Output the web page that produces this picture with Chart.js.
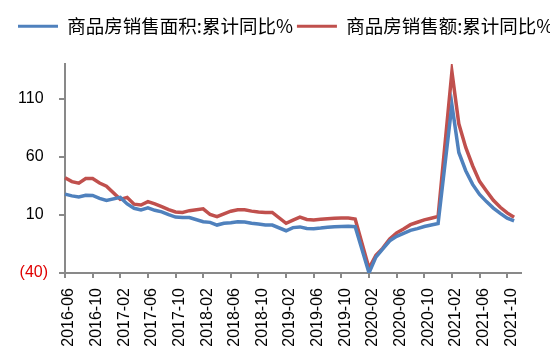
<!DOCTYPE html>
<html>
<head>
<meta charset="utf-8">
<script src="https://cdn.jsdelivr.net/npm/chart.js@4"></script>
<style>
  html, body { margin: 0; padding: 0; background: #fff; overflow: hidden; }
  #wrap { width: 550px; height: 364px; overflow: hidden; }
</style>
</head>
<body>
<div id="wrap"><canvas id="chart" width="620" height="364"></canvas></div>
<script>
// Months 2016-06 .. 2021-12 (January has no cumulative figure)
const months = [
  '2016-06','2016-07','2016-08','2016-09','2016-10','2016-11','2016-12',
  '2017-01','2017-02','2017-03','2017-04','2017-05','2017-06','2017-07','2017-08','2017-09','2017-10','2017-11','2017-12',
  '2018-01','2018-02','2018-03','2018-04','2018-05','2018-06','2018-07','2018-08','2018-09','2018-10','2018-11','2018-12',
  '2019-01','2019-02','2019-03','2019-04','2019-05','2019-06','2019-07','2019-08','2019-09','2019-10','2019-11','2019-12',
  '2020-01','2020-02','2020-03','2020-04','2020-05','2020-06','2020-07','2020-08','2020-09','2020-10','2020-11','2020-12',
  '2021-01','2021-02','2021-03','2021-04','2021-05','2021-06','2021-07','2021-08','2021-09','2021-10','2021-11','2021-12'
];

// 商品房销售面积:累计同比%
const areaYoY = [
  27.9, 26.4, 25.5, 26.9, 26.8, 24.3, 22.5,
  null, 25.1, 19.5, 15.7, 14.3, 16.1, 14.0, 12.7, 10.3, 8.2, 7.9, 7.7,
  null, 4.1, 3.6, 1.3, 2.9, 3.3, 4.2, 4.0, 2.9, 2.2, 1.4, 1.3,
  null, -3.6, -0.9, -0.3, -1.6, -1.8, -1.3, -0.6, -0.1, 0.1, 0.2, -0.1,
  null, -39.9, -26.3, -19.3, -12.3, -8.4, -5.8, -3.3, -1.8, 0.0, 1.3, 2.6,
  null, 104.9, 63.8, 48.1, 36.3, 27.7, 21.5, 15.9, 11.3, 7.2, 4.8, null
];

// 商品房销售额:累计同比%
const amountYoY = [
  42.1, 38.7, 37.3, 41.3, 41.3, 37.5, 34.8,
  null, 23.4, 25.1, 19.3, 18.6, 21.5, 19.5, 17.2, 14.6, 12.6, 12.2, 13.7,
  null, 15.3, 10.4, 8.5, 11.0, 13.2, 14.5, 14.5, 13.3, 12.5, 12.1, 12.2,
  null, 2.8, 5.6, 8.1, 6.1, 5.6, 6.2, 6.7, 7.1, 7.3, 7.3, 6.5,
  null, -35.9, -24.7, -18.6, -10.6, -5.4, -2.1, 1.6, 3.7, 5.8, 7.2, 8.7,
  null, 133.4, 88.5, 68.2, 52.4, 38.9, 30.7, 22.6, 16.6, 11.8, 8.0, null
];

const seriesNames = ['商品房销售面积:累计同比%', '商品房销售额:累计同比%'];
const yTicks = [-40, 10, 60, 110];
const Y_MIN = -40;
const Y_MAX = 140;
const LABEL_EVERY = 4;

const BLUE = '#4F81BD';
const RED = '#C0504D';
const AXIS = '#898989';
const LEGEND_HEIGHT = 51; // legend block incl. gap above the plot

// Excel style numbers: negatives in red brackets
const fmtY = (v) => v < 0 ? `(${Math.abs(v)})` : `${v} `;

// Make the legend block taller so the plot starts lower
const legendSpacer = {
  id: 'legendSpacer',
  beforeLayout: (chart) => {
    const legend = chart.legend;
    if (!legend || legend._spaced) return;
    const origFit = legend.fit.bind(legend);
    legend.fit = function () {
      origFit();
      this.height = LEGEND_HEIGHT;
    };
    legend._spaced = true;
  }
};

const ctx = document.getElementById('chart').getContext('2d');
const chart = new Chart(ctx, {
  type: 'line',
  data: {
    labels: months,
    datasets: [
      {
        label: seriesNames[0],
        data: areaYoY,
        borderColor: BLUE,
        backgroundColor: BLUE,
        borderWidth: 3.5,
        pointRadius: 0,
        tension: 0,
        spanGaps: true
      },
      {
        label: seriesNames[1],
        data: amountYoY,
        borderColor: RED,
        backgroundColor: RED,
        borderWidth: 3.5,
        pointRadius: 0,
        tension: 0,
        spanGaps: true
      }
    ]
  },
  plugins: [legendSpacer],
  options: {
    responsive: false,
    animation: false,
    devicePixelRatio: 1,
    layout: { padding: { left: 14, top: 13, right: 0, bottom: 0 } },
    plugins: {
      tooltip: { enabled: false },
      legend: {
        position: 'top',
        align: 'start',
        labels: {
          boxWidth: 40,
          boxHeight: 3,
          padding: 4,
          color: '#000',
          font: { family: '"Noto Sans CJK SC", "Noto Sans", sans-serif', size: 18.5 },
          generateLabels: (c) => c.data.datasets.map((ds, i) => ({
            text: ds.label,
            fillStyle: ds.borderColor,
            strokeStyle: ds.borderColor,
            lineWidth: 0,
            datasetIndex: i,
            hidden: false
          }))
        }
      }
    },
    scales: {
      x: {
        offset: false,
        grid: {
          drawOnChartArea: false,
          drawTicks: true,
          tickLength: 5,
          color: AXIS,
          lineWidth: 2
        },
        border: { color: AXIS, width: 2 },
        ticks: {
          autoSkip: false,
          minRotation: 90,
          maxRotation: 90,
          padding: 10,
          labelOffset: 4,
          color: '#000',
          font: { family: '"Liberation Sans", Arial, sans-serif', size: 16 },
          callback: (val, idx) => idx % LABEL_EVERY === 0 ? months[idx] : null
        },
        afterFit: (scale) => { scale.height = 91; }
      },
      y: {
        min: Y_MIN,
        max: Y_MAX,
        grid: {
          drawOnChartArea: false,
          drawTicks: true,
          tickLength: 6,
          color: AXIS,
          lineWidth: 2
        },
        border: { color: AXIS, width: 2 },
        ticks: {
          padding: 11,
          color: (c) => c.tick && c.tick.value < 0 ? '#E00000' : '#000',
          font: { family: '"Liberation Sans", Arial, sans-serif', size: 16 },
          callback: (v) => fmtY(v)
        },
        afterBuildTicks: (scale) => { scale.ticks = yTicks.map(v => ({ value: v })); },
        afterFit: (scale) => { scale.width = 51; }
      },
      // empty right axis keeps the plot inside the 550px window
      y2: {
        position: 'right',
        display: true,
        grid: { display: false },
        border: { display: false },
        ticks: { display: false },
        afterFit: (scale) => { scale.width = 99; }
      }
    }
  }
});
</script>
</body>
</html>
